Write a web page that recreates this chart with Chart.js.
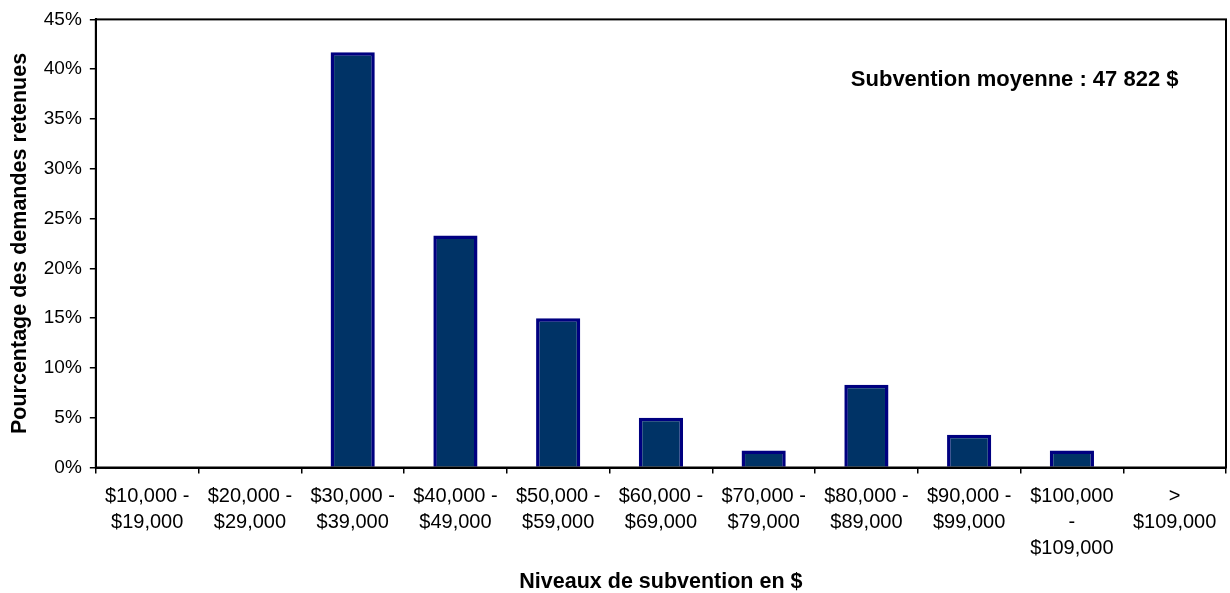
<!DOCTYPE html>
<html>
<head>
<meta charset="utf-8">
<script src="https://cdn.jsdelivr.net/npm/chart.js@4"></script>
<style>
  html, body { margin: 0; padding: 0; background: #fff; }
  #wrap { width: 1230px; height: 593px; }
</style>
</head>
<body>
<div id="wrap"><canvas id="myChart" width="1230" height="593"></canvas></div>
<script>
const niveaux = [
  ["$10,000 -", "$19,000"],
  ["$20,000 -", "$29,000"],
  ["$30,000 -", "$39,000"],
  ["$40,000 -", "$49,000"],
  ["$50,000 -", "$59,000"],
  ["$60,000 -", "$69,000"],
  ["$70,000 -", "$79,000"],
  ["$80,000 -", "$89,000"],
  ["$90,000 -", "$99,000"],
  ["$100,000", "-", "$109,000"],
  [">", "$109,000"]
];
const pourcentages = [0, 0, 41.7, 23.3, 15.0, 5.0, 1.7, 8.3, 3.3, 1.7, 0];
const yTicks = [0, 5, 10, 15, 20, 25, 30, 35, 40, 45];
const noteTexte = "Subvention moyenne : 47 822 $";

// cadre noir autour de la zone du graphique + note
const cadre = {
  id: "cadre",
  afterDraw(chart) {
    const { ctx, chartArea: a } = chart;
    ctx.save();
    ctx.strokeStyle = "#000";
    ctx.lineWidth = 2;
    ctx.strokeRect(a.left, a.top, a.right - a.left, a.bottom - a.top);
    ctx.fillStyle = "#000";
    ctx.font = "bold 22px 'Liberation Sans', Arial, sans-serif";
    ctx.textAlign = "center";
    ctx.textBaseline = "middle";
    ctx.fillText(noteTexte, a.left + (a.right - a.left) * 0.813, a.top + 61);
    ctx.restore();
  }
};

document.addEventListener("DOMContentLoaded", function () {
  const ctx = document.getElementById("myChart").getContext("2d");
  Chart.defaults.font.family = "'Liberation Sans', Arial, sans-serif";
  Chart.defaults.color = "#000";
  new Chart(ctx, {
    type: "bar",
    data: {
      labels: niveaux,
      datasets: [{
        data: pourcentages,
        backgroundColor: "#003366",
        borderColor: "#000080",
        borderWidth: 3.5,
        borderSkipped: "bottom",
        categoryPercentage: 1,
        barPercentage: 0.43
      }]
    },
    options: {
      responsive: false,
      animation: false,
      layout: { padding: { top: 4, right: 4, left: 3, bottom: 0 } },
      plugins: { legend: { display: false }, tooltip: { enabled: false } },
      scales: {
        x: {
          grid: { display: true, drawOnChartArea: false, drawTicks: true, tickLength: 6, color: "#000", lineWidth: 1.5, offset: true },
          border: { display: true, color: "#000", width: 2 },
          ticks: { font: { size: 20, lineHeight: 1.3 }, maxRotation: 0, autoSkip: false, padding: 10 },
          title: { display: true, text: "Niveaux de subvention en $", font: { size: 21.5, weight: "bold", lineHeight: 1 }, padding: { top: 0, bottom: 0 } }
        },
        y: {
          min: 0,
          max: 45,
          afterBuildTicks(scale) { scale.ticks = yTicks.map(v => ({ value: v })); },
          grid: { display: true, drawOnChartArea: false, drawTicks: true, tickLength: 6, color: "#000", lineWidth: 1.5 },
          border: { display: true, color: "#000", width: 2 },
          ticks: { font: { size: 19 }, padding: 8, callback: v => v + "%" },
          title: { display: true, text: "Pourcentage des demandes retenues", font: { size: 21.5, weight: "bold" }, padding: { bottom: 3 } }
        }
      }
    },
    plugins: [cadre]
  });
});
</script>
</body>
</html>
